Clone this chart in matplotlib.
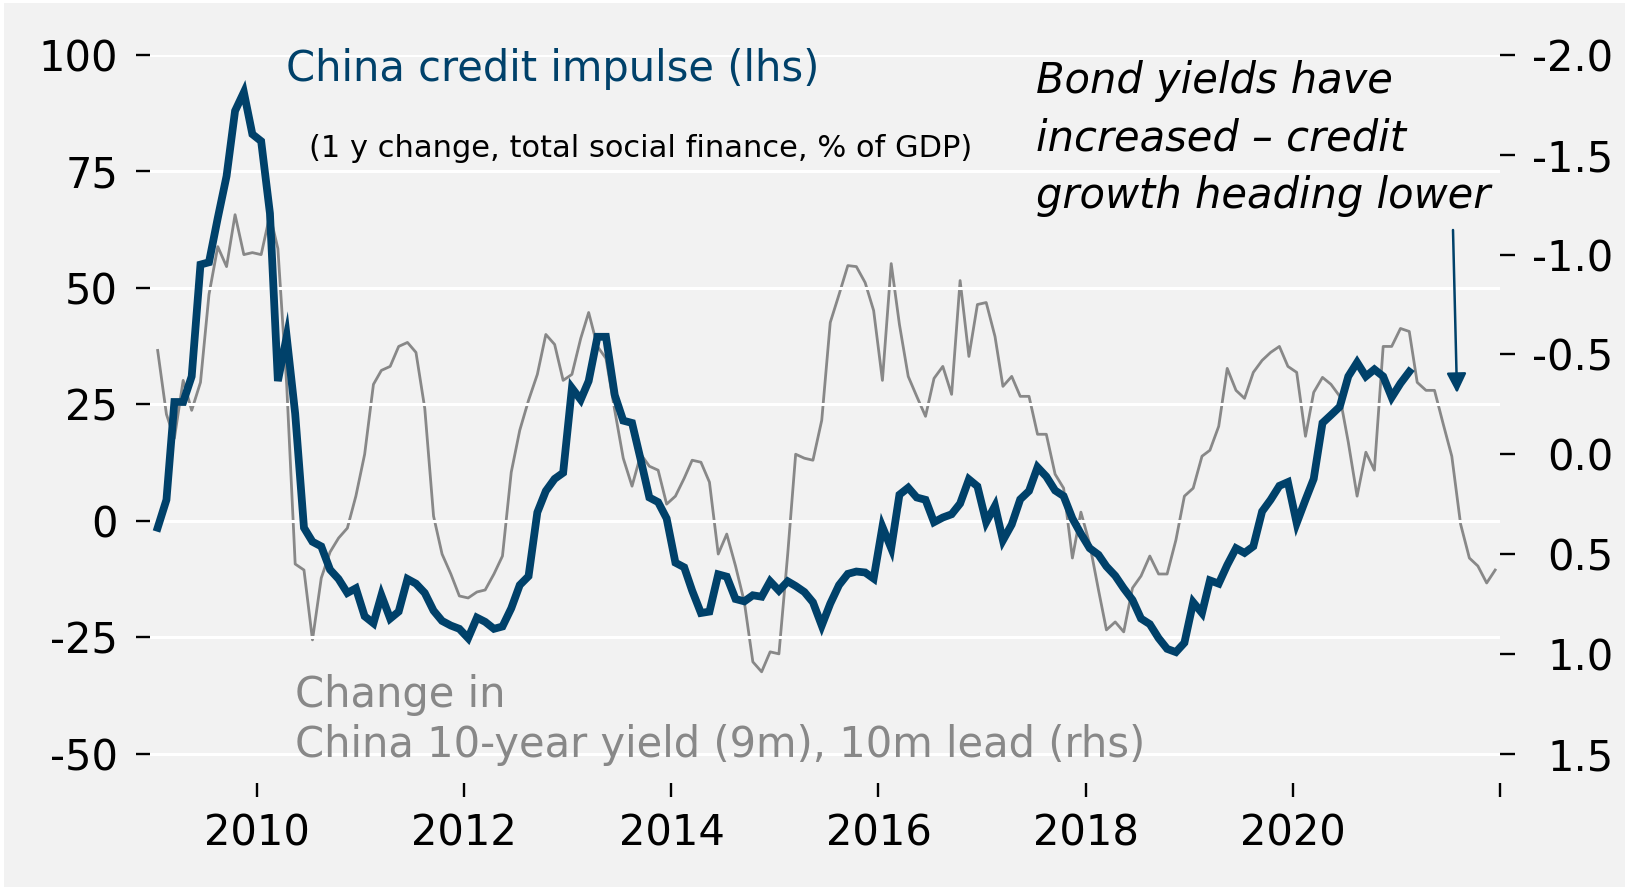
#!/usr/bin/env python3
# China credit impulse vs change in China 10y yield (10m lead)
import matplotlib.pyplot as plt
import matplotlib.patches as patches
import pandas as pd

plt.rcParams['font.family'] = ['DejaVu Sans']
plt.rcParams['axes.unicode_minus'] = False

# monthly, from Jan 2009 (lhs, % of GDP)
credit_impulse = [
    -1.5, 4.5, 25.5, 25.5, 31, 55, 55.5, 65, 74, 88, 92, 83,
    81.5, 66, 30, 39.5, 23, -1.5, -4.5, -5.5, -10.5, -12.5, -15.5, -14.5,
    -20.5, -22, -16, -21, -19.5, -12.5, -13.5, -15.5, -19.3, -21.5, -22.5, -23.2,
    -25.2, -20.8, -21.7, -23.2, -22.7, -18.8, -13.8, -11.9, 1.8, 6.4, 9, 10.3,
    28.5, 26, 30, 39.5, 39.5, 27, 21.5, 21, 13, 5, 4, 0.5,
    -9, -10, -15, -19.8, -19.5, -11.5, -12, -16.8, -17.3, -16, -16.3, -13,
    -15, -13, -14, -15.3, -17.5, -22.5, -17.8, -13.8, -11.4, -10.9, -11.1, -12.4,
    -1.3, -5.9, 5.6, 7.1, 5, 4.5, -0.3, 0.7, 1.4, 3.7, 8.9, 7.4,
    -0.3, 3.2, -4.2, -0.8, 4.6, 6.4, 11.5, 9.5, 6.5, 5.3, 0.5, -2.8,
    -5.9, -7.3, -9.8, -11.8, -14.5, -17, -21, -22.2, -25.2, -27.5, -28.2, -26.2,
    -17.5, -19.8, -12.8, -13.5, -9.5, -5.9, -6.9, -5.5, 2, 4.5, 7.5, 8.3,
    -0.5, 4.5, 9, 21, 22.7, 24.5, 31, 34, 31, 32.5, 31, 26.5,
    29.5, 32,
]

# monthly, from Jan 2009 (rhs, inverted, pp)
yield_change = [
    -0.52, -0.20, -0.08, -0.37, -0.22, -0.36, -0.80, -1.04, -0.94, -1.20, -1.00, -1.01,
    -1.00, -1.20, -1.03, -0.35, 0.55, 0.58, 0.93, 0.62, 0.49, 0.42, 0.37, 0.21,
    0.00, -0.35, -0.42, -0.44, -0.54, -0.56, -0.51, -0.23, 0.31, 0.50, 0.60, 0.71,
    0.72, 0.69, 0.68, 0.60, 0.51, 0.09, -0.12, -0.27, -0.40, -0.60, -0.55, -0.37,
    -0.40, -0.58, -0.71, -0.54, -0.48, -0.22, 0.02, 0.16, 0.00, 0.06, 0.08, 0.25,
    0.21, 0.12, 0.03, 0.04, 0.14, 0.50, 0.40, 0.56, 0.74, 1.04, 1.09, 0.99,
    1.00, 0.50, 0.00, 0.02, 0.03, -0.17, -0.66, -0.80, -0.945, -0.94, -0.86, -0.72,
    -0.37, -0.955, -0.65, -0.39, -0.29, -0.19, -0.38, -0.44, -0.30, -0.87, -0.49, -0.75,
    -0.76, -0.59, -0.34, -0.39, -0.29, -0.29, -0.10, -0.10, 0.10, 0.17, 0.52, 0.29,
    0.45, 0.68, 0.88, 0.84, 0.89, 0.67, 0.61, 0.51, 0.60, 0.60, 0.43, 0.21,
    0.17, 0.01, -0.02, -0.14, -0.43, -0.32, -0.28, -0.41, -0.47, -0.51, -0.54, -0.44,
    -0.41, -0.09, -0.31, -0.385, -0.35, -0.29, -0.06, 0.21, -0.01, 0.08, -0.54, -0.54,
    -0.63, -0.615, -0.36, -0.32, -0.32, -0.15, 0.01, 0.35, 0.52, 0.56, 0.645, 0.58,
]

left_ticks = [-50, -25, 0, 25, 50, 75, 100]
right_ticks = [-2.0, -1.5, -1.0, -0.5, 0.0, 0.5, 1.0, 1.5]
year_ticks = [2010, 2012, 2014, 2016, 2018, 2020, 2022]
year_labels = ['2010', '2012', '2014', '2016', '2018', '2020', '']

note_lines = ['Bond yields have', 'increased \u2013 credit', 'growth heading lower']
rhs_lines = ['Change in', 'China 10-year yield (9m), 10m lead (rhs)']

BLUE = '#00416a'
GREY = '#888888'
BG = '#f2f2f2'
W, H = 1633, 890

mid = pd.Timedelta(days=14)
credit_dates = pd.date_range('2009-01-01', periods=len(credit_impulse), freq='MS') + mid
yield_dates = pd.date_range('2009-01-01', periods=len(yield_change), freq='MS') + mid

fig = plt.figure(figsize=(W / 100, H / 100), dpi=100)
fig.patch.set_facecolor('white')
fig.patches.append(patches.Rectangle((4 / W, 3 / H), 1621 / W, 884 / H, transform=fig.transFigure,
                                     facecolor=BG, edgecolor='none', zorder=-10))

ax1 = fig.add_axes([150 / W, 1 - 783 / H, 1350 / W, 728 / H])
ax2 = ax1.twinx()
ax1.set_zorder(2)
ax2.set_zorder(1)
ax1.patch.set_visible(False)
ax2.patch.set_facecolor(BG)

ax2.plot(yield_dates, yield_change, color=GREY, lw=2.0)
ax1.plot(credit_dates, credit_impulse, color=BLUE, lw=5.6, solid_joinstyle='miter')

ax1.set_ylim(-56.3, 100)
ax2.set_ylim(1.647, -2.0)
ax1.set_xlim(pd.Timestamp('2008-12-19'), pd.Timestamp('2022-01-01'))

ax1.set_yticks(left_ticks)
ax1.set_yticklabels([str(t) for t in left_ticks])
ax2.set_yticks(right_ticks)
ax2.set_yticklabels([f'{t:.1f}' for t in right_ticks])
ax1.set_xticks([pd.Timestamp(f'{y}-01-01') for y in year_ticks])
ax1.set_xticklabels(year_labels)

ax1.grid(axis='y', color='white', lw=2.2)
ax1.grid(axis='x', visible=False)
for ax in (ax1, ax2):
    for s in ax.spines.values():
        s.set_visible(False)

ax1.tick_params(axis='y', length=10, width=1.7, pad=13, labelsize=30)
ax1.tick_params(axis='x', length=10, width=1.7, pad=11.5, labelsize=30)
ax2.tick_params(axis='y', length=10.8, width=1.7, pad=71, labelsize=30)
for lab in ax2.get_yticklabels():
    lab.set_horizontalalignment('right')

fig.text(286 / W, 1 - 81 / H, 'China credit impulse (lhs)', color=BLUE, fontsize=30,
         ha='left', va='baseline')
fig.text(309 / W, 1 - 157 / H, '(1 y change, total social finance, % of GDP)', color='black',
         fontsize=22, ha='left', va='baseline')
for i, line in enumerate(note_lines):
    fig.text(1036 / W, 1 - (93 + i * 57.5) / H, line, color='black', fontsize=30,
             style='italic', ha='left', va='baseline')
for i, line in enumerate(rhs_lines):
    fig.text(295 / W, 1 - (707 + i * 50) / H, line, color=GREY, fontsize=30,
             ha='left', va='baseline')

ax1.annotate('', xy=(1457 / W, 1 - 393 / H), xytext=(1453 / W, 1 - 230 / H),
             xycoords='figure fraction', textcoords='figure fraction',
             arrowprops=dict(arrowstyle='-|>', color=BLUE, lw=1.8, mutation_scale=30,
                             shrinkA=0, shrinkB=0))

fig.savefig('out.png', dpi=100, facecolor='white')
